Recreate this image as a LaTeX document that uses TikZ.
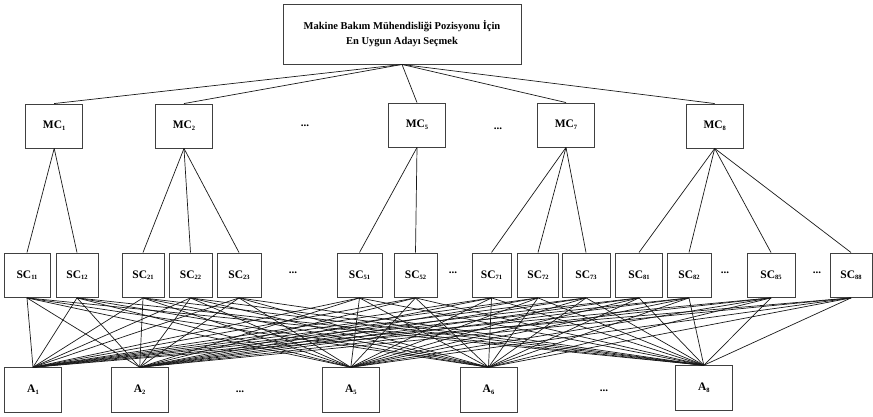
\documentclass[tikz,border=0pt]{standalone}
\usepackage{fontspec}
\setmainfont{Liberation Serif}
\newcommand{\sbs}[1]{\raisebox{-0.35ex}{\fontsize{6.5}{7}\selectfont #1}}
\begin{document}
\begin{tikzpicture}[x=1pt,y=-1pt,
  box/.style={draw=black!75, line width=0.9pt, inner sep=0pt, font=\bfseries\fontsize{11.5}{13}\selectfont},
  mcbox/.style={box, minimum width=57pt, minimum height=44pt},
  scbox/.style={box, minimum height=44.5pt},
  abox/.style={box, minimum width=57pt, minimum height=44.6pt},
  dotsnode/.style={inner sep=0pt, font=\bfseries\fontsize{11}{13}\selectfont},
  link/.style={draw=black!90, line width=0.7pt}]
\useasboundingbox (0,0) rectangle (873,417);
% goal
\node[box, minimum width=238pt, minimum height=60pt, align=center,
      font=\bfseries\fontsize{10.5}{15}\selectfont] (goal) at (402,34)
  {Makine Bakım Mühendisliği Pozisyonu İçin\\En Uygun Adayı Seçmek};
% main criteria
\node[mcbox] (mc1) at (54.2,126) {MC\sbs{1}};
\node[mcbox] (mc2) at (184,126) {MC\sbs{2}};
\node[mcbox] (mc5) at (417,125) {MC\sbs{5}};
\node[mcbox] (mc7) at (566,125) {MC\sbs{7}};
\node[mcbox] (mc8) at (714.7,126) {MC\sbs{8}};
\node[dotsnode] (dm1) at (305,126) {...};
\node[dotsnode] (dm2) at (498,129) {...};
% sub criteria
\node[scbox, minimum width=46pt] (sc11) at (27,275.2) {SC\sbs{11}};
\node[scbox, minimum width=42pt] (sc12) at (77,275.2) {SC\sbs{12}};
\node[scbox, minimum width=42pt] (sc21) at (143,275.2) {SC\sbs{21}};
\node[scbox, minimum width=43pt] (sc22) at (190.5,275.2) {SC\sbs{22}};
\node[scbox, minimum width=44pt] (sc23) at (239,275.2) {SC\sbs{23}};
\node[scbox, minimum width=45pt] (sc51) at (359.5,275.2) {SC\sbs{51}};
\node[scbox, minimum width=43pt] (sc52) at (415.5,275.2) {SC\sbs{52}};
\node[scbox, minimum width=39pt] (sc71) at (491.5,275.2) {SC\sbs{71}};
\node[scbox, minimum width=41pt] (sc72) at (538,275.2) {SC\sbs{72}};
\node[scbox, minimum width=48pt] (sc73) at (586,275.2) {SC\sbs{73}};
\node[scbox, minimum width=47pt] (sc81) at (639,275.2) {SC\sbs{81}};
\node[scbox, minimum width=44pt] (sc82) at (689,275.2) {SC\sbs{82}};
\node[scbox, minimum width=48pt] (sc85) at (771,275.2) {SC\sbs{85}};
\node[scbox, minimum width=42pt] (sc88) at (851,275.2) {SC\sbs{88}};
\node[dotsnode] (ds1) at (293,273) {...};
\node[dotsnode] (ds2) at (453,273) {...};
\node[dotsnode] (ds3) at (725,273) {...};
\node[dotsnode] (ds4) at (817,273) {...};
% alternatives
\node[abox] (a1) at (33,390) {A\sbs{1}};
\node[abox] (a2) at (139.7,390) {A\sbs{2}};
\node[abox] (a5) at (350.8,390) {A\sbs{5}};
\node[abox] (a6) at (488.5,390) {A\sbs{6}};
\node[abox] (a8) at (703.8,388) {A\sbs{8}};
\node[dotsnode] (da1) at (240,392) {...};
\node[dotsnode] (da2) at (604,391) {...};
% links
\foreach \m in {mc1,mc2,mc5,mc7,mc8} \draw[link] (goal.south) -- (\m.north);
\foreach \s in {sc11,sc12} \draw[link] (mc1.south) -- (\s.north);
\foreach \s in {sc21,sc22,sc23} \draw[link] (mc2.south) -- (\s.north);
\foreach \s in {sc51,sc52} \draw[link] (mc5.south) -- (\s.north);
\foreach \s in {sc71,sc72,sc73} \draw[link] (mc7.south) -- (\s.north);
\foreach \s in {sc81,sc82,sc85,sc88} \draw[link] (mc8.south) -- (\s.north);
\foreach \s in {sc11,sc12,sc21,sc22,sc23,sc51,sc52,sc71,sc72,sc73,sc81,sc82,sc85,sc88}
  \foreach \a in {a1,a2,a5,a6,a8} \draw[link] (\s.south) -- (\a.north);
\end{tikzpicture}
\end{document}
